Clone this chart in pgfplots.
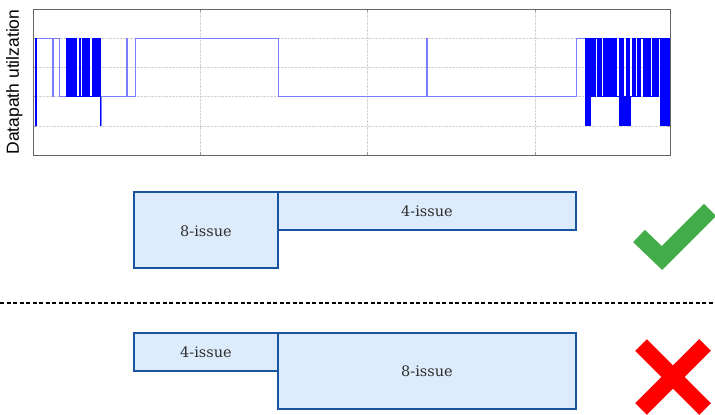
\documentclass[border=0pt]{standalone}
\usepackage{pgfplots}
\pgfplotsset{compat=1.18}
\usepackage{pgfplotstable}
\usepackage{fontspec}
\setmainfont{DejaVu Serif}
\newfontfamily\labelfont{Liberation Sans}

\definecolor{tracelight}{RGB}{125,125,255}
\definecolor{boxfill}{RGB}{221,236,252}
\definecolor{boxedge}{RGB}{24,84,160}
\definecolor{okgreen}{RGB}{67,172,74}

% utilization trace, x in time units (same scale as the picture), y = level
\pgfplotstableread{
x y
35 1
35.5 4
36 1
36.5 4
52 2
53 4
59 2
66 4
66.7 2
67.4 4
68.1 2
68.8 4
69.5 2
70.2 4
70.9 2
71.6 4
72.3 2
73 4
73.7 2
74.4 4
75.1 2
75.8 4
76.5 2
79 4
79.6 2
80.2 4
80.8 2
82 4
82.7 2
83.4 4
84.1 2
84.8 4
85.5 2
86.2 4
86.9 2
87.6 4
88.3 2
89 4
89.7 2
92 4
92.7 2
93.4 4
94.1 2
94.8 4
95.5 2
96.2 4
96.9 2
97.6 4
98.3 2
99 4
100 2
100.6 1
101.2 2
126 4
127 2
135 4
278 2
426 4
427 2
576 4
585 1
585.6 4
586.2 1
586.8 4
587.4 1
588 4
588.6 1
589.2 4
589.8 1
590.4 4
591 2
591.6 4
592.2 2
593.4 4
594 2
594.6 4
595.2 2
595.8 4
597 2
597.6 4
598.2 2
598.8 4
599.4 2
600 4
600.6 2
601.2 4
601.8 2
603 4
603.6 2
604.2 4
604.8 2
605.4 4
606 2
606.6 4
607.2 2
607.8 4
608.4 2
609 4
609.6 2
610.2 4
610.8 2
611.4 4
612 2
612.6 4
613.2 2
613.8 4
614.4 2
615 4
615.6 2
616.2 4
616.8 2
619 1
619.6 4
620.2 1
620.8 4
621.4 1
622 4
622.6 1
623.2 4
623.8 1
624.4 2
625 1
625.6 2
626.2 1
626.8 4
627.4 1
628 4
628.6 1
629.2 4
629.8 1
630.4 2
632 4
632.6 2
633.2 4
633.8 2
634.4 4
635 2
637 4
637.6 2
638.2 4
638.8 2
639.4 4
640 2
640.6 4
643 2
643.6 4
644.2 2
644.8 4
645.4 2
646 4
646.6 2
647.2 4
647.8 2
648.4 4
649 2
649.6 4
650.2 2
652 4
652.6 2
653.2 4
653.8 2
654.4 4
655 2
655.6 4
656.2 2
656.8 4
657.4 2
658 4
660 1
660.6 4
661.2 1
661.8 4
662.4 1
663 4
663.6 1
664.2 4
664.8 1
665.4 4
666 1
666.6 4
667.2 1
667.8 4
668.4 1
669 4
670 4
}\trace

\begin{document}
\begin{tikzpicture}
\useasboundingbox (0,0) rectangle (715pt,415pt);

% lower schematic, in picture units
\begin{axis}[
  at={(0,0)}, anchor=south west,
  width=715pt, height=415pt, scale only axis,
  xmin=0, xmax=715, ymin=0, ymax=415, y dir=reverse,
  hide axis, clip=false
]
\addplot[draw=boxedge, fill=boxfill, line width=1.8pt]
  coordinates {(134,192) (278,192) (278,268) (134,268)} -- cycle;
\addplot[draw=boxedge, fill=boxfill, line width=1.8pt]
  coordinates {(278,192) (576,192) (576,230) (278,230)} -- cycle;
\addplot[draw=boxedge, fill=boxfill, line width=1.8pt]
  coordinates {(134,333) (278,333) (278,371) (134,371)} -- cycle;
\addplot[draw=boxedge, fill=boxfill, line width=1.8pt]
  coordinates {(278,333) (576,333) (576,409) (278,409)} -- cycle;
\node[font=\fontsize{14.5}{16}\selectfont, text=black!82] at (axis cs:206,231) {8-issue};
\node[font=\fontsize{14.5}{16}\selectfont, text=black!82] at (axis cs:427,211) {4-issue};
\node[font=\fontsize{14.5}{16}\selectfont, text=black!82] at (axis cs:206,352) {4-issue};
\node[font=\fontsize{14.5}{16}\selectfont, text=black!82] at (axis cs:427,371) {8-issue};
\addplot[black, line width=1.2pt, dash pattern=on 4pt off 2.5pt]
  coordinates {(0,303) (715,303)};
\addplot[okgreen, line width=17pt, line cap=butt, line join=miter]
  coordinates {(639,236) (662,258) (710,210)};
\addplot[red, line width=16.5pt, line cap=butt]
  coordinates {(641,345) (705,409)};
\addplot[red, line width=16.5pt, line cap=butt]
  coordinates {(705,345) (641,409)};
\end{axis}

% utilization trace
\begin{axis}[
  at={(33pt,406pt)}, anchor=north west,
  width=637pt, height=146pt, scale only axis,
  xmin=33, xmax=670, ymin=0, ymax=5,
  xtick={200,367,535}, ytick={1,2,3,4},
  xticklabels={}, yticklabels={},
  grid=major, grid style={densely dotted, gray!35},
  axis line style={black!60, line width=0.8pt},
  tick style={black!40, line width=0.5pt}, major tick length=3pt,
  ylabel={Datapath utilzation},
  ylabel style={font=\labelfont\fontsize{17.5}{19}\selectfont,
    at={(axis description cs:-0.011,0.5)}, anchor=south},
  clip=true
]
\addplot[const plot, no marks, tracelight, line width=0.9pt] table {\trace};
\addplot[const plot, no marks, blue, line width=0.75pt,
  restrict x to domain=34.9:37] table {\trace};
\addplot[const plot, no marks, blue, line width=0.75pt,
  restrict x to domain=66:100.6] table {\trace};
\addplot[const plot, no marks, blue, line width=0.75pt,
  restrict x to domain=584:670] table {\trace};
\end{axis}
\end{tikzpicture}
\end{document}
